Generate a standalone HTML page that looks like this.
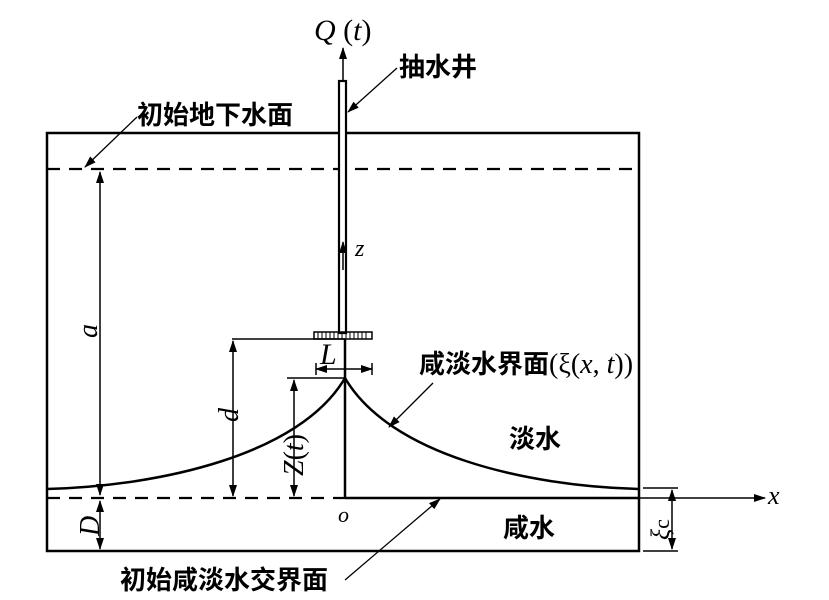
<!DOCTYPE html>
<html><head><meta charset="utf-8"><style>
html,body{margin:0;padding:0;background:#fff}
svg{display:block}
.cj{font-family:"Liberation Sans","Noto Sans CJK SC",sans-serif;font-size:26px;font-weight:bold;fill:#000}
.it{font-family:"Liberation Serif",serif;font-style:italic;fill:#000}
</style></head><body>
<svg width="829" height="600" viewBox="0 0 829 600" xmlns="http://www.w3.org/2000/svg">
<defs>
<marker id="ar" markerWidth="12" markerHeight="8" refX="11" refY="4" orient="auto" markerUnits="userSpaceOnUse"><path d="M0,0 L12,4 L0,8 Z" fill="#000"/></marker>
<marker id="ars" markerWidth="12" markerHeight="8" refX="1" refY="4" orient="auto" markerUnits="userSpaceOnUse"><path d="M12,0 L0,4 L12,8 Z" fill="#000"/></marker>
</defs>
<g stroke="#000" fill="none">
<rect x="47" y="133" width="592" height="418" stroke-width="2.5"/>
<line x1="47" y1="169" x2="639" y2="169" stroke-width="2.2" stroke-dasharray="13,9"/>
<line x1="47" y1="498" x2="345" y2="498" stroke-width="2.2" stroke-dasharray="13,9"/>
<rect x="339" y="81" width="7" height="252" fill="#fff" stroke-width="2.2"/>
<line x1="343" y1="81" x2="343" y2="48" stroke-width="1.5" marker-end="url(#ar)"/>
<line x1="343" y1="270" x2="343" y2="242" stroke-width="1.5" marker-end="url(#ar)"/>
<rect x="314" y="332" width="58" height="7" stroke-width="1.5"/>
<path d="M318,332v7M322,332v7M326,332v7M330,332v7M334,332v7M338,332v7M342,332v7M346,332v7M350,332v7M354,332v7M358,332v7M362,332v7M366,332v7" stroke-width="1"/>
<line x1="232" y1="339" x2="345" y2="339" stroke-width="1.5"/>
<line x1="345" y1="339" x2="345" y2="498" stroke-width="2.5"/>
<line x1="345" y1="498" x2="639" y2="498" stroke-width="2.5"/>
<line x1="639" y1="498" x2="765" y2="498" stroke-width="1.5" marker-end="url(#ar)"/>
<line x1="287" y1="378" x2="345" y2="378" stroke-width="1.5"/>
<path d="M47,489 C160,486 300,455 345,378" stroke-width="2.5"/>
<path d="M639,489 C526,486 390,455 345,378" stroke-width="2.5"/>
<line x1="100" y1="172" x2="100" y2="495" stroke-width="1.5" marker-start="url(#ars)" marker-end="url(#ar)"/>
<line x1="100" y1="501" x2="100" y2="549" stroke-width="1.5" marker-start="url(#ars)" marker-end="url(#ar)"/>
<line x1="233" y1="341" x2="233" y2="496" stroke-width="1.5" marker-start="url(#ars)" marker-end="url(#ar)"/>
<line x1="294" y1="380" x2="294" y2="496" stroke-width="1.5" marker-start="url(#ars)" marker-end="url(#ar)"/>
<line x1="643" y1="488" x2="678" y2="488" stroke-width="1.5"/>
<line x1="643" y1="551" x2="678" y2="551" stroke-width="1.5"/>
<line x1="672" y1="490" x2="672" y2="549" stroke-width="1.5" marker-start="url(#ars)" marker-end="url(#ar)"/>
<line x1="316" y1="369" x2="372" y2="369" stroke-width="1.5" marker-start="url(#ars)" marker-end="url(#ar)"/>
<line x1="316" y1="363" x2="316" y2="375" stroke-width="1.5"/>
<line x1="372" y1="363" x2="372" y2="375" stroke-width="1.5"/>
<line x1="397" y1="68" x2="348" y2="112" stroke-width="1.3" marker-end="url(#ar)"/>
<line x1="137" y1="117" x2="85" y2="167" stroke-width="1.3" marker-end="url(#ar)"/>
<line x1="433" y1="383" x2="389" y2="427" stroke-width="1.3" marker-end="url(#ar)"/>
<line x1="345" y1="580" x2="440" y2="499" stroke-width="1.3" marker-end="url(#ar)"/>
</g>
<text x="314" y="40" class="it" font-size="30">Q<tspan font-style="normal"> (</tspan>t<tspan font-style="normal">)</tspan></text>
<text x="399" y="76" class="cj">抽水井</text>
<text x="137" y="124" class="cj">初始地下水面</text>
<text x="419" y="373" class="cj">咸淡水界面<tspan font-family="Liberation Serif" font-weight="normal" font-size="28">(ξ(<tspan font-style="italic">x</tspan>, <tspan font-style="italic">t</tspan>))</tspan></text>
<text x="509" y="448" class="cj">淡水</text>
<text x="503" y="537" class="cj">咸水</text>
<text x="120" y="589" class="cj">初始咸淡水交界面</text>
<text x="355" y="256" class="it" font-size="24">z</text>
<text x="320" y="364" class="it" font-size="30">L</text>
<text x="338" y="522" class="it" font-size="22">o</text>
<text x="768" y="504" class="it" font-size="26">x</text>
<text transform="translate(97,338) rotate(-90)" class="it" font-size="28">a</text>
<text transform="translate(238,422) rotate(-90)" class="it" font-size="28">d</text>
<text transform="translate(303,476) rotate(-90)" class="it" font-size="28">Z<tspan font-style="normal">(</tspan>t<tspan font-style="normal">)</tspan></text>
<text transform="translate(99,536) rotate(-90)" class="it" font-size="28">D</text>
<text transform="translate(669,540) rotate(-90)" class="it" font-size="26">ξ<tspan font-style="normal" font-size="22">c</tspan></text>
</svg>
</body></html>
